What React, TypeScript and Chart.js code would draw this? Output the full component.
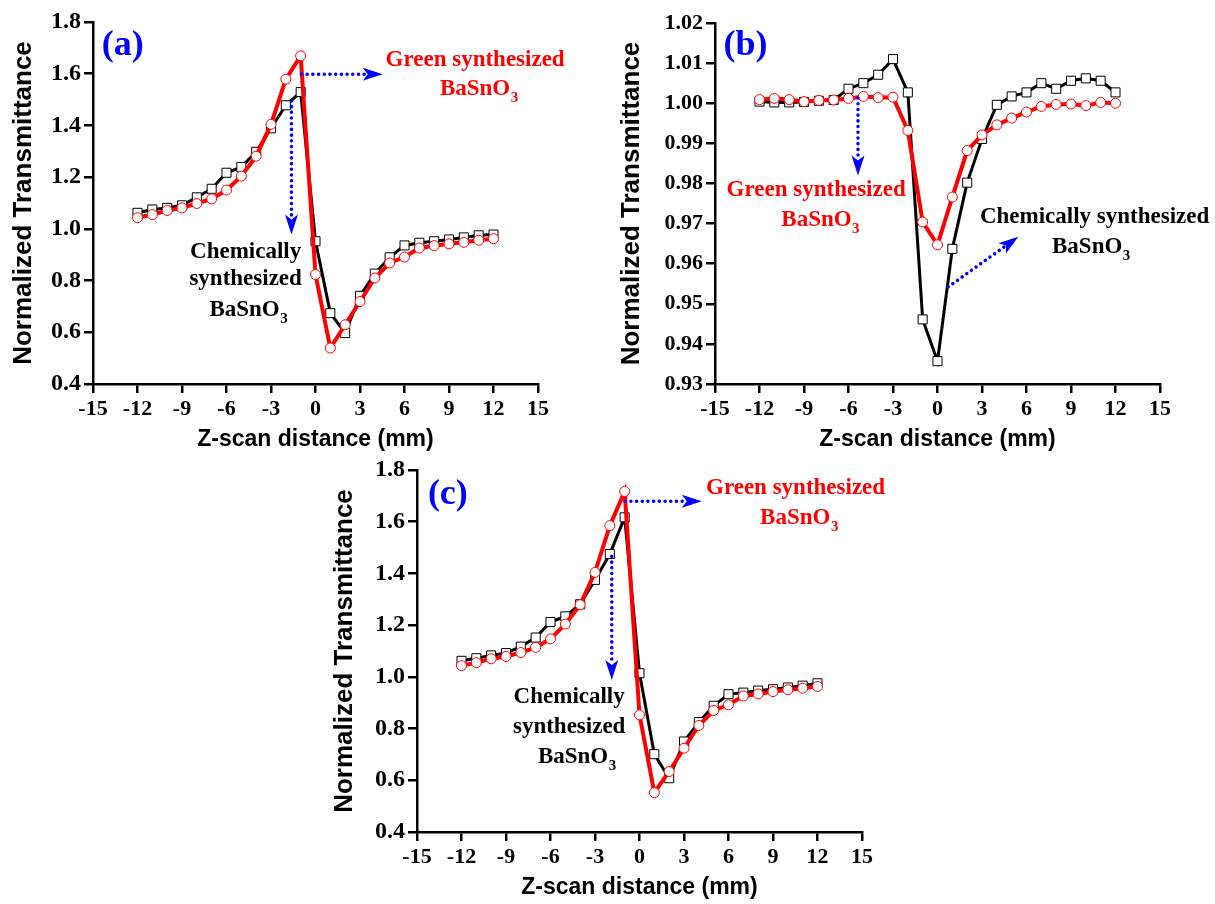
import React, { useEffect, useRef } from "react";
import { Chart, registerables } from "chart.js";

Chart.register(...registerables);

// ---------- data ----------
const zPositions = [-12, -11, -10, -9, -8, -7, -6, -5, -4, -3, -2, -1, 0, 1, 2, 3, 4, 5, 6, 7, 8, 9, 10, 11, 12];

const chemicalA = [1.062, 1.075, 1.081, 1.091, 1.122, 1.155, 1.217, 1.239, 1.298, 1.389, 1.478, 1.529, 0.952, 0.674, 0.597, 0.741, 0.827, 0.89, 0.936, 0.946, 0.952, 0.959, 0.967, 0.975, 0.978];
const greenA = [1.043, 1.055, 1.071, 1.081, 1.098, 1.116, 1.15, 1.204, 1.281, 1.404, 1.579, 1.669, 0.823, 0.539, 0.629, 0.719, 0.81, 0.868, 0.891, 0.926, 0.935, 0.942, 0.948, 0.956, 0.962];

const chemicalB = [1.0004, 1.0002, 1.0002, 1.0003, 1.0006, 1.0008, 1.0036, 1.005, 1.0071, 1.011, 1.0027, 0.9461, 0.9357, 0.9637, 0.9802, 0.9911, 0.9996, 1.0017, 1.0027, 1.005, 1.0036, 1.0056, 1.0062, 1.0056, 1.0027];
const greenB = [1.0009, 1.0012, 1.0009, 1.0004, 1.0007, 1.0008, 1.0012, 1.0017, 1.0014, 1.0015, 0.9932, 0.9704, 0.9647, 0.9766, 0.9882, 0.9921, 0.9946, 0.9963, 0.9978, 0.9992, 0.9997, 0.9998, 0.9994, 1.0002, 1.0];

const chemicalC = [1.062, 1.072, 1.083, 1.092, 1.117, 1.152, 1.212, 1.234, 1.281, 1.375, 1.475, 1.617, 1.014, 0.701, 0.608, 0.75, 0.825, 0.888, 0.933, 0.939, 0.947, 0.952, 0.959, 0.966, 0.975];
const greenC = [1.043, 1.055, 1.07, 1.079, 1.094, 1.114, 1.147, 1.204, 1.279, 1.404, 1.585, 1.717, 0.853, 0.552, 0.634, 0.724, 0.812, 0.87, 0.892, 0.926, 0.934, 0.943, 0.95, 0.956, 0.963];

const xTitle = "Z-scan distance (mm)";
const yTitle = "Normalized Transmittance";
const greenLabel = "Green synthesized";
const chemLabel1 = "Chemically";
const chemLabel2 = "synthesized";
const chemLabelOneLine = "Chemically synthesized";
const formulaMain = "BaSnO";
const formulaSub = "3";

// ---------- styles ----------
const RED = "#ff0000";
const BLUE = "#0000ff";
const BLACK = "#000000";
const SERIF = '"Liberation Serif", "Times New Roman", serif';
const SANS = '"Liberation Sans", Arial, sans-serif';

type Note =
  | { kind: "text"; text: string; x: number; y: number; color: string; size: number }
  | { kind: "formula"; x: number; y: number; color: string; size: number }
  | { kind: "arrow"; x1: number; y1: number; x2: number; y2: number };

const notesA: Note[] = [
  { kind: "text", text: "(a)", x: -13.0, y: 1.707, color: BLUE, size: 36 },
  { kind: "arrow", x1: -0.95, y1: 1.598, x2: 4.53, y2: 1.598 },
  { kind: "text", text: greenLabel, x: 10.76, y: 1.653, color: RED, size: 23 },
  { kind: "formula", x: 10.76, y: 1.54, color: RED, size: 23 },
  { kind: "arrow", x1: -1.62, y1: 1.495, x2: -1.62, y2: 0.978 },
  { kind: "text", text: chemLabel1, x: -4.71, y: 0.912, color: BLACK, size: 23 },
  { kind: "text", text: chemLabel2, x: -4.71, y: 0.804, color: BLACK, size: 23 },
  { kind: "formula", x: -4.78, y: 0.687, color: BLACK, size: 23 },
];

const notesB: Note[] = [
  { kind: "text", text: "(b)", x: -12.95, y: 1.01435, color: BLUE, size: 36 },
  { kind: "arrow", x1: -5.36, y1: 1.0013, x2: -5.36, y2: 0.982 },
  { kind: "text", text: greenLabel, x: -8.18, y: 0.97828, color: RED, size: 23 },
  { kind: "formula", x: -8.16, y: 0.97082, color: RED, size: 23 },
  { kind: "text", text: chemLabelOneLine, x: 10.59, y: 0.97164, color: BLACK, size: 23 },
  { kind: "formula", x: 10.09, y: 0.96418, color: BLACK, size: 23 },
  { kind: "arrow", x1: 0.72, y1: 0.9542, x2: 5.45, y2: 0.9667 },
];

const notesC: Note[] = [
  { kind: "text", text: "(c)", x: -12.92, y: 1.704, color: BLUE, size: 36 },
  { kind: "arrow", x1: -0.97, y1: 1.679, x2: 4.2, y2: 1.679 },
  { kind: "text", text: greenLabel, x: 10.52, y: 1.73, color: RED, size: 23 },
  { kind: "formula", x: 10.5, y: 1.615, color: RED, size: 23 },
  { kind: "arrow", x1: -1.87, y1: 1.466, x2: -1.87, y2: 0.988 },
  { kind: "text", text: chemLabel1, x: -4.74, y: 0.922, color: BLACK, size: 23 },
  { kind: "text", text: chemLabel2, x: -4.74, y: 0.806, color: BLACK, size: 23 },
  { kind: "formula", x: -4.48, y: 0.69, color: BLACK, size: 23 },
];

function drawArrow(ctx: CanvasRenderingContext2D, x1: number, y1: number, x2: number, y2: number) {
  const ang = Math.atan2(y2 - y1, x2 - x1);
  const headLen = 20;
  const headHalf = 6.5;
  const bx = x2 - headLen * Math.cos(ang);
  const by = y2 - headLen * Math.sin(ang);
  ctx.save();
  ctx.strokeStyle = BLUE;
  ctx.fillStyle = BLUE;
  ctx.lineWidth = 3.5;
  ctx.lineCap = "round";
  ctx.setLineDash([0.1, 5.6]);
  ctx.beginPath();
  ctx.moveTo(x1, y1);
  ctx.lineTo(bx + 4 * Math.cos(ang), by + 4 * Math.sin(ang));
  ctx.stroke();
  ctx.setLineDash([]);
  const px = -Math.sin(ang);
  const py = Math.cos(ang);
  const nx = bx + 5 * Math.cos(ang);
  const ny = by + 5 * Math.sin(ang);
  ctx.beginPath();
  ctx.moveTo(x2, y2);
  ctx.lineTo(bx + px * headHalf, by + py * headHalf);
  ctx.lineTo(nx, ny);
  ctx.lineTo(bx - px * headHalf, by - py * headHalf);
  ctx.closePath();
  ctx.fill();
  ctx.restore();
}

function makeNotesPlugin(notes: Note[]) {
  return {
    id: "zscanNotes",
    afterDatasetsDraw(chart: any) {
      const ctx: CanvasRenderingContext2D = chart.ctx;
      const xs = chart.scales.x;
      const ys = chart.scales.y;
      ctx.save();
      for (const n of notes) {
        if (n.kind === "arrow") {
          drawArrow(ctx, xs.getPixelForValue(n.x1), ys.getPixelForValue(n.y1), xs.getPixelForValue(n.x2), ys.getPixelForValue(n.y2));
        } else if (n.kind === "text") {
          ctx.font = `bold ${n.size}px ${SERIF}`;
          ctx.fillStyle = n.color;
          ctx.textAlign = "center";
          ctx.textBaseline = "middle";
          ctx.fillText(n.text, xs.getPixelForValue(n.x), ys.getPixelForValue(n.y));
        } else {
          const cx = xs.getPixelForValue(n.x);
          const cy = ys.getPixelForValue(n.y);
          ctx.font = `bold ${n.size}px ${SERIF}`;
          ctx.fillStyle = n.color;
          ctx.textAlign = "center";
          ctx.textBaseline = "middle";
          const w = ctx.measureText(formulaMain).width;
          ctx.fillText(formulaMain, cx, cy);
          ctx.font = `bold ${Math.round(n.size * 0.65)}px ${SERIF}`;
          ctx.textAlign = "left";
          ctx.fillText(formulaSub, cx + w / 2 + 0.5, cy + 9);
        }
      }
      ctx.restore();
    },
  };
}

type PanelSpec = {
  left: number;
  top: number;
  width: number;
  height: number;
  pad: { left: number; right: number; top: number; bottom: number };
  yWidth: number;
  xHeight: number;
  yMin: number;
  yMax: number;
  yStep: number;
  yDecimals: number;
  yFont: number;
  yTitlePad: number;
  chem: number[];
  green: number[];
  notes: Note[];
};

const panels: PanelSpec[] = [
  {
    left: 0, top: 0, width: 585, height: 460,
    pad: { left: 0, right: 47, top: 22, bottom: 7 },
    yWidth: 93, xHeight: 69,
    yMin: 0.4, yMax: 1.8, yStep: 0.2, yDecimals: 1, yFont: 24, yTitlePad: 11,
    chem: chemicalA, green: greenA, notes: notesA,
  },
  {
    left: 600, top: 0, width: 615, height: 460,
    pad: { left: 0, right: 55, top: 23, bottom: 7 },
    yWidth: 115, xHeight: 69,
    yMin: 0.93, yMax: 1.02, yStep: 0.01, yDecimals: 2, yFont: 22, yTitlePad: 19,
    chem: chemicalB, green: greenB, notes: notesB,
  },
  {
    left: 320, top: 448, width: 575, height: 456,
    pad: { left: 0, right: 33, top: 22, bottom: 3 },
    yWidth: 97, xHeight: 69,
    yMin: 0.4, yMax: 1.8, yStep: 0.2, yDecimals: 1, yFont: 24, yTitlePad: 12,
    chem: chemicalC, green: greenC, notes: notesC,
  },
];

function Panel({ spec }: { spec: PanelSpec }) {
  const ref = useRef<HTMLCanvasElement>(null);
  useEffect(() => {
    const canvas = ref.current;
    if (!canvas) return;
    const gridCfg = {
      display: true,
      drawOnChartArea: false,
      drawTicks: true,
      tickLength: 9,
      tickWidth: 2.5,
      tickColor: BLACK,
      color: BLACK,
      lineWidth: 2.5,
    };
    const chart = new Chart(canvas, {
      type: "line",
      data: {
        datasets: [
          {
            label: "Green synthesized BaSnO3",
            data: zPositions.map((z, i) => ({ x: z, y: spec.green[i] })),
            borderColor: RED,
            borderWidth: 4,
            pointStyle: "circle",
            pointRadius: 5,
            pointBackgroundColor: "#ffffff",
            pointBorderColor: RED,
            pointBorderWidth: 1,
            tension: 0,
          },
          {
            label: "Chemically synthesized BaSnO3",
            data: zPositions.map((z, i) => ({ x: z, y: spec.chem[i] })),
            borderColor: BLACK,
            borderWidth: 3,
            pointStyle: "rect",
            pointRadius: 6.4,
            pointBackgroundColor: "#ffffff",
            pointBorderColor: BLACK,
            pointBorderWidth: 1,
            tension: 0,
          },
        ],
      },
      options: {
        responsive: false,
        animation: false,
        events: [],
        layout: { padding: spec.pad },
        plugins: {
          legend: { display: false },
          tooltip: { enabled: false },
        },
        scales: {
          x: {
            type: "linear",
            min: -15,
            max: 15,
            afterFit: (s: any) => {
              s.height = spec.xHeight;
            },
            ticks: {
              stepSize: 3,
              color: BLACK,
              padding: 3,
              maxRotation: 0,
              font: { family: SERIF, weight: "bold", size: 22 },
              callback: (v: any) => String(v),
            },
            grid: gridCfg,
            border: { display: true, color: BLACK, width: 2.5 },
            title: {
              display: true,
              text: xTitle,
              color: BLACK,
              font: { family: SANS, weight: "bold", size: 23, lineHeight: 1 },
              padding: { top: 0, bottom: 1.5 },
            },
          },
          y: {
            type: "linear",
            min: spec.yMin,
            max: spec.yMax,
            afterFit: (s: any) => {
              s.width = spec.yWidth;
            },
            ticks: {
              stepSize: spec.yStep,
              color: BLACK,
              padding: 3,
              font: { family: SERIF, weight: "bold", size: spec.yFont },
              callback: (v: any) => Number(v).toFixed(spec.yDecimals),
            },
            grid: gridCfg,
            border: { display: true, color: BLACK, width: 2.5 },
            title: {
              display: true,
              text: yTitle,
              color: BLACK,
              font: { family: SANS, weight: "bold", size: 26, lineHeight: 1 },
              padding: { top: spec.yTitlePad, bottom: 0 },
            },
          },
        },
      } as any,
      plugins: [makeNotesPlugin(spec.notes)],
    });
    return () => chart.destroy();
  }, [spec]);
  return (
    <canvas
      ref={ref}
      width={spec.width}
      height={spec.height}
      style={{ position: "absolute", left: spec.left, top: spec.top, width: spec.width, height: spec.height }}
    />
  );
}

export default function App() {
  return (
    <div style={{ position: "absolute", left: 0, top: 0, width: 1215, height: 904, background: "#ffffff", overflow: "hidden" }}>
      {panels.map((p, i) => (
        <Panel key={i} spec={p} />
      ))}
    </div>
  );
}
